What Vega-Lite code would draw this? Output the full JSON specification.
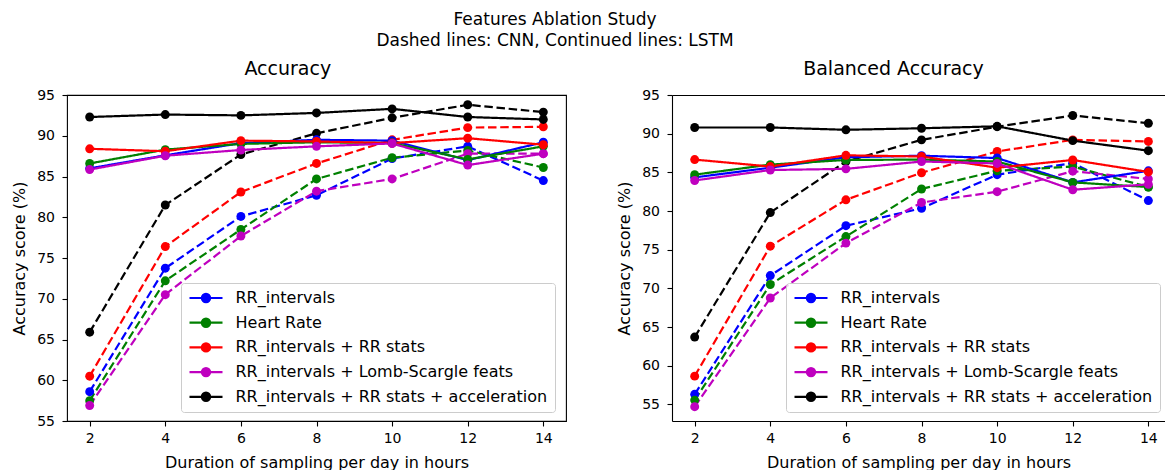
{
  "$schema": "https://vega.github.io/schema/vega-lite/v6.json",
  "padding": {"left": 11, "top": 10, "right": 0, "bottom": 0},
  "background": "white",
  "title": {"text": ["Features Ablation Study", "Dashed lines: CNN, Continued lines: LSTM"], "anchor": "middle", "dx": -33, "fontSize": 17, "fontWeight": "normal", "font": "DejaVu Sans", "color": "black", "lineHeight": 21.7, "offset": 9},
  "config": {
    "font": "DejaVu Sans",
    "view": {"stroke": "black", "strokeWidth": 1.1},
    "axis": {"grid": false, "domain": false, "tickColor": "black", "tickSize": 5, "tickWidth": 1.1, "labelFont": "DejaVu Sans", "labelFontSize": 14, "labelColor": "black", "titleFont": "DejaVu Sans", "titleFontSize": 16, "titleFontWeight": "normal", "titleColor": "black", "domainColor": "black", "domainWidth": 1.1},
    "axisX": {"labelPadding": 5, "titlePadding": 9},
    "axisY": {"labelPadding": 7.5, "titlePadding": 9},
    "title": {"font": "DejaVu Sans", "fontSize": 19, "fontWeight": "normal", "color": "black"}
  },
  "datasets": {
    "acc": [
      {"feature": "RR_intervals", "model": "CNN", "hours": 2, "score": 58.6},
      {"feature": "RR_intervals", "model": "CNN", "hours": 4, "score": 73.75},
      {"feature": "RR_intervals", "model": "CNN", "hours": 6, "score": 80.1},
      {"feature": "RR_intervals", "model": "CNN", "hours": 8, "score": 82.7},
      {"feature": "RR_intervals", "model": "CNN", "hours": 10, "score": 87.2},
      {"feature": "RR_intervals", "model": "CNN", "hours": 12, "score": 88.7},
      {"feature": "RR_intervals", "model": "CNN", "hours": 14, "score": 84.5},
      {"feature": "Heart Rate", "model": "CNN", "hours": 2, "score": 57.5},
      {"feature": "Heart Rate", "model": "CNN", "hours": 4, "score": 72.2},
      {"feature": "Heart Rate", "model": "CNN", "hours": 6, "score": 78.5},
      {"feature": "Heart Rate", "model": "CNN", "hours": 8, "score": 84.7},
      {"feature": "Heart Rate", "model": "CNN", "hours": 10, "score": 87.3},
      {"feature": "Heart Rate", "model": "CNN", "hours": 12, "score": 88.2},
      {"feature": "Heart Rate", "model": "CNN", "hours": 14, "score": 86.1},
      {"feature": "RR_intervals + RR stats", "model": "CNN", "hours": 2, "score": 60.5},
      {"feature": "RR_intervals + RR stats", "model": "CNN", "hours": 4, "score": 76.4},
      {"feature": "RR_intervals + RR stats", "model": "CNN", "hours": 6, "score": 83.1},
      {"feature": "RR_intervals + RR stats", "model": "CNN", "hours": 8, "score": 86.6},
      {"feature": "RR_intervals + RR stats", "model": "CNN", "hours": 10, "score": 89.5},
      {"feature": "RR_intervals + RR stats", "model": "CNN", "hours": 12, "score": 91.0},
      {"feature": "RR_intervals + RR stats", "model": "CNN", "hours": 14, "score": 91.1},
      {"feature": "RR_intervals + Lomb-Scargle feats", "model": "CNN", "hours": 2, "score": 56.9},
      {"feature": "RR_intervals + Lomb-Scargle feats", "model": "CNN", "hours": 4, "score": 70.5},
      {"feature": "RR_intervals + Lomb-Scargle feats", "model": "CNN", "hours": 6, "score": 77.7},
      {"feature": "RR_intervals + Lomb-Scargle feats", "model": "CNN", "hours": 8, "score": 83.2},
      {"feature": "RR_intervals + Lomb-Scargle feats", "model": "CNN", "hours": 10, "score": 84.7},
      {"feature": "RR_intervals + Lomb-Scargle feats", "model": "CNN", "hours": 12, "score": 87.8},
      {"feature": "RR_intervals + Lomb-Scargle feats", "model": "CNN", "hours": 14, "score": 87.8},
      {"feature": "RR_intervals + RR stats + acceleration", "model": "CNN", "hours": 2, "score": 65.9},
      {"feature": "RR_intervals + RR stats + acceleration", "model": "CNN", "hours": 4, "score": 81.5},
      {"feature": "RR_intervals + RR stats + acceleration", "model": "CNN", "hours": 6, "score": 87.7},
      {"feature": "RR_intervals + RR stats + acceleration", "model": "CNN", "hours": 8, "score": 90.3},
      {"feature": "RR_intervals + RR stats + acceleration", "model": "CNN", "hours": 10, "score": 92.2},
      {"feature": "RR_intervals + RR stats + acceleration", "model": "CNN", "hours": 12, "score": 93.8},
      {"feature": "RR_intervals + RR stats + acceleration", "model": "CNN", "hours": 14, "score": 92.9},
      {"feature": "RR_intervals", "model": "LSTM", "hours": 2, "score": 86.0},
      {"feature": "RR_intervals", "model": "LSTM", "hours": 4, "score": 87.6},
      {"feature": "RR_intervals", "model": "LSTM", "hours": 6, "score": 89.1},
      {"feature": "RR_intervals", "model": "LSTM", "hours": 8, "score": 89.5},
      {"feature": "RR_intervals", "model": "LSTM", "hours": 10, "score": 89.4},
      {"feature": "RR_intervals", "model": "LSTM", "hours": 12, "score": 87.0},
      {"feature": "RR_intervals", "model": "LSTM", "hours": 14, "score": 89.2},
      {"feature": "Heart Rate", "model": "LSTM", "hours": 2, "score": 86.6},
      {"feature": "Heart Rate", "model": "LSTM", "hours": 4, "score": 88.3},
      {"feature": "Heart Rate", "model": "LSTM", "hours": 6, "score": 89.0},
      {"feature": "Heart Rate", "model": "LSTM", "hours": 8, "score": 89.2},
      {"feature": "Heart Rate", "model": "LSTM", "hours": 10, "score": 89.1},
      {"feature": "Heart Rate", "model": "LSTM", "hours": 12, "score": 87.1},
      {"feature": "Heart Rate", "model": "LSTM", "hours": 14, "score": 88.7},
      {"feature": "RR_intervals + RR stats", "model": "LSTM", "hours": 2, "score": 88.4},
      {"feature": "RR_intervals + RR stats", "model": "LSTM", "hours": 4, "score": 88.1},
      {"feature": "RR_intervals + RR stats", "model": "LSTM", "hours": 6, "score": 89.4},
      {"feature": "RR_intervals + RR stats", "model": "LSTM", "hours": 8, "score": 89.3},
      {"feature": "RR_intervals + RR stats", "model": "LSTM", "hours": 10, "score": 89.1},
      {"feature": "RR_intervals + RR stats", "model": "LSTM", "hours": 12, "score": 89.7},
      {"feature": "RR_intervals + RR stats", "model": "LSTM", "hours": 14, "score": 88.9},
      {"feature": "RR_intervals + Lomb-Scargle feats", "model": "LSTM", "hours": 2, "score": 85.85},
      {"feature": "RR_intervals + Lomb-Scargle feats", "model": "LSTM", "hours": 4, "score": 87.55},
      {"feature": "RR_intervals + Lomb-Scargle feats", "model": "LSTM", "hours": 6, "score": 88.25},
      {"feature": "RR_intervals + Lomb-Scargle feats", "model": "LSTM", "hours": 8, "score": 88.7},
      {"feature": "RR_intervals + Lomb-Scargle feats", "model": "LSTM", "hours": 10, "score": 89.05},
      {"feature": "RR_intervals + Lomb-Scargle feats", "model": "LSTM", "hours": 12, "score": 86.4},
      {"feature": "RR_intervals + Lomb-Scargle feats", "model": "LSTM", "hours": 14, "score": 87.8},
      {"feature": "RR_intervals + RR stats + acceleration", "model": "LSTM", "hours": 2, "score": 92.3},
      {"feature": "RR_intervals + RR stats + acceleration", "model": "LSTM", "hours": 4, "score": 92.6},
      {"feature": "RR_intervals + RR stats + acceleration", "model": "LSTM", "hours": 6, "score": 92.5},
      {"feature": "RR_intervals + RR stats + acceleration", "model": "LSTM", "hours": 8, "score": 92.8},
      {"feature": "RR_intervals + RR stats + acceleration", "model": "LSTM", "hours": 10, "score": 93.3},
      {"feature": "RR_intervals + RR stats + acceleration", "model": "LSTM", "hours": 12, "score": 92.3},
      {"feature": "RR_intervals + RR stats + acceleration", "model": "LSTM", "hours": 14, "score": 92.0}
    ],
    "bacc": [
      {"feature": "RR_intervals", "model": "CNN", "hours": 2, "score": 56.3},
      {"feature": "RR_intervals", "model": "CNN", "hours": 4, "score": 71.65},
      {"feature": "RR_intervals", "model": "CNN", "hours": 6, "score": 78.1},
      {"feature": "RR_intervals", "model": "CNN", "hours": 8, "score": 80.35},
      {"feature": "RR_intervals", "model": "CNN", "hours": 10, "score": 84.7},
      {"feature": "RR_intervals", "model": "CNN", "hours": 12, "score": 86.2},
      {"feature": "RR_intervals", "model": "CNN", "hours": 14, "score": 81.35},
      {"feature": "Heart Rate", "model": "CNN", "hours": 2, "score": 55.55},
      {"feature": "Heart Rate", "model": "CNN", "hours": 4, "score": 70.5},
      {"feature": "Heart Rate", "model": "CNN", "hours": 6, "score": 76.7},
      {"feature": "Heart Rate", "model": "CNN", "hours": 8, "score": 82.85},
      {"feature": "Heart Rate", "model": "CNN", "hours": 10, "score": 85.2},
      {"feature": "Heart Rate", "model": "CNN", "hours": 12, "score": 85.75},
      {"feature": "Heart Rate", "model": "CNN", "hours": 14, "score": 83.1},
      {"feature": "RR_intervals + RR stats", "model": "CNN", "hours": 2, "score": 58.65},
      {"feature": "RR_intervals + RR stats", "model": "CNN", "hours": 4, "score": 75.45},
      {"feature": "RR_intervals + RR stats", "model": "CNN", "hours": 6, "score": 81.45},
      {"feature": "RR_intervals + RR stats", "model": "CNN", "hours": 8, "score": 84.95},
      {"feature": "RR_intervals + RR stats", "model": "CNN", "hours": 10, "score": 87.7},
      {"feature": "RR_intervals + RR stats", "model": "CNN", "hours": 12, "score": 89.2},
      {"feature": "RR_intervals + RR stats", "model": "CNN", "hours": 14, "score": 89.0},
      {"feature": "RR_intervals + Lomb-Scargle feats", "model": "CNN", "hours": 2, "score": 54.7},
      {"feature": "RR_intervals + Lomb-Scargle feats", "model": "CNN", "hours": 4, "score": 68.75},
      {"feature": "RR_intervals + Lomb-Scargle feats", "model": "CNN", "hours": 6, "score": 75.85},
      {"feature": "RR_intervals + Lomb-Scargle feats", "model": "CNN", "hours": 8, "score": 81.1},
      {"feature": "RR_intervals + Lomb-Scargle feats", "model": "CNN", "hours": 10, "score": 82.5},
      {"feature": "RR_intervals + Lomb-Scargle feats", "model": "CNN", "hours": 12, "score": 85.15},
      {"feature": "RR_intervals + Lomb-Scargle feats", "model": "CNN", "hours": 14, "score": 84.15},
      {"feature": "RR_intervals + RR stats + acceleration", "model": "CNN", "hours": 2, "score": 63.7},
      {"feature": "RR_intervals + RR stats + acceleration", "model": "CNN", "hours": 4, "score": 79.8},
      {"feature": "RR_intervals + RR stats + acceleration", "model": "CNN", "hours": 6, "score": 86.4},
      {"feature": "RR_intervals + RR stats + acceleration", "model": "CNN", "hours": 8, "score": 89.2},
      {"feature": "RR_intervals + RR stats + acceleration", "model": "CNN", "hours": 10, "score": 90.9},
      {"feature": "RR_intervals + RR stats + acceleration", "model": "CNN", "hours": 12, "score": 92.35},
      {"feature": "RR_intervals + RR stats + acceleration", "model": "CNN", "hours": 14, "score": 91.35},
      {"feature": "RR_intervals", "model": "LSTM", "hours": 2, "score": 84.35},
      {"feature": "RR_intervals", "model": "LSTM", "hours": 4, "score": 85.6},
      {"feature": "RR_intervals", "model": "LSTM", "hours": 6, "score": 86.95},
      {"feature": "RR_intervals", "model": "LSTM", "hours": 8, "score": 87.15},
      {"feature": "RR_intervals", "model": "LSTM", "hours": 10, "score": 86.85},
      {"feature": "RR_intervals", "model": "LSTM", "hours": 12, "score": 83.7},
      {"feature": "RR_intervals", "model": "LSTM", "hours": 14, "score": 85.2},
      {"feature": "Heart Rate", "model": "LSTM", "hours": 2, "score": 84.7},
      {"feature": "Heart Rate", "model": "LSTM", "hours": 4, "score": 86.0},
      {"feature": "Heart Rate", "model": "LSTM", "hours": 6, "score": 86.6},
      {"feature": "Heart Rate", "model": "LSTM", "hours": 8, "score": 86.65},
      {"feature": "Heart Rate", "model": "LSTM", "hours": 10, "score": 86.4},
      {"feature": "Heart Rate", "model": "LSTM", "hours": 12, "score": 83.7},
      {"feature": "Heart Rate", "model": "LSTM", "hours": 14, "score": 83.1},
      {"feature": "RR_intervals + RR stats", "model": "LSTM", "hours": 2, "score": 86.65},
      {"feature": "RR_intervals + RR stats", "model": "LSTM", "hours": 4, "score": 85.75},
      {"feature": "RR_intervals + RR stats", "model": "LSTM", "hours": 6, "score": 87.2},
      {"feature": "RR_intervals + RR stats", "model": "LSTM", "hours": 8, "score": 87.05},
      {"feature": "RR_intervals + RR stats", "model": "LSTM", "hours": 10, "score": 85.6},
      {"feature": "RR_intervals + RR stats", "model": "LSTM", "hours": 12, "score": 86.6},
      {"feature": "RR_intervals + RR stats", "model": "LSTM", "hours": 14, "score": 85.05},
      {"feature": "RR_intervals + Lomb-Scargle feats", "model": "LSTM", "hours": 2, "score": 83.95},
      {"feature": "RR_intervals + Lomb-Scargle feats", "model": "LSTM", "hours": 4, "score": 85.3},
      {"feature": "RR_intervals + Lomb-Scargle feats", "model": "LSTM", "hours": 6, "score": 85.45},
      {"feature": "RR_intervals + Lomb-Scargle feats", "model": "LSTM", "hours": 8, "score": 86.4},
      {"feature": "RR_intervals + Lomb-Scargle feats", "model": "LSTM", "hours": 10, "score": 86.15},
      {"feature": "RR_intervals + Lomb-Scargle feats", "model": "LSTM", "hours": 12, "score": 82.75},
      {"feature": "RR_intervals + Lomb-Scargle feats", "model": "LSTM", "hours": 14, "score": 83.45},
      {"feature": "RR_intervals + RR stats + acceleration", "model": "LSTM", "hours": 2, "score": 90.8},
      {"feature": "RR_intervals + RR stats + acceleration", "model": "LSTM", "hours": 4, "score": 90.8},
      {"feature": "RR_intervals + RR stats + acceleration", "model": "LSTM", "hours": 6, "score": 90.5},
      {"feature": "RR_intervals + RR stats + acceleration", "model": "LSTM", "hours": 8, "score": 90.7},
      {"feature": "RR_intervals + RR stats + acceleration", "model": "LSTM", "hours": 10, "score": 90.95},
      {"feature": "RR_intervals + RR stats + acceleration", "model": "LSTM", "hours": 12, "score": 89.1},
      {"feature": "RR_intervals + RR stats + acceleration", "model": "LSTM", "hours": 14, "score": 87.8}
    ]
  },
  "spacing": 106,
  "bounds": "flush",
  "resolve": {"scale": {"x": "independent", "y": "independent", "color": "shared"}, "legend": {"color": "independent"}},
  "hconcat": [
    {
      "width": 499,
      "height": 326,
      "title": {"text": "Accuracy", "frame": "group", "dx": -28.7, "baseline": "alphabetic", "offset": -6},
      "data": {"name": "acc"},
      "layer": [
        {
          "mark": {"type": "line", "strokeWidth": 2.2},
          "encoding": {
            "x": {"field": "hours", "type": "quantitative", "scale": {"domain": [1.4, 14.6], "nice": false, "zero": false}, "axis": {"values": [2, 4, 6, 8, 10, 12, 14], "format": "d", "title": "Duration of sampling per day in hours"}},
            "y": {"field": "score", "type": "quantitative", "scale": {"domain": [55, 95], "nice": false, "zero": false}, "axis": {"values": [55, 60, 65, 70, 75, 80, 85, 90, 95], "format": "d", "title": "Accuracy score (%)"}},
            "color": {"field": "feature", "type": "nominal", "scale": {"domain": ["RR_intervals", "Heart Rate", "RR_intervals + RR stats", "RR_intervals + Lomb-Scargle feats", "RR_intervals + RR stats + acceleration"], "range": ["#0000ff", "#008000", "#ff0000", "#bf00bf", "#000000"]},
              "legend": {"title": null, "orient": "none", "legendX": 114, "legendY": 188, "symbolType": "M-1,0L1,0M-0.25,0A0.25,0.25,0,1,1,0.25,0A0.25,0.25,0,1,1,-0.25,0Z", "symbolSize": 1089, "symbolStrokeWidth": 2.2, "clipHeight": 16, "rowPadding": 8.7, "labelOffset": 11.5, "labelFontSize": 16, "labelFont": "DejaVu Sans", "labelColor": "black", "labelLimit": 500, "padding": 7, "fillColor": "rgba(255,255,255,0.8)", "strokeColor": "#cccccc", "cornerRadius": 3,
                "encoding": {"symbols": {"update": {"fill": {"scale": "color", "field": "value"}, "stroke": {"scale": "color", "field": "value"}, "opacity": {"value": 1}}}}}},
            "strokeDash": {"field": "model", "type": "nominal", "scale": {"domain": ["CNN", "LSTM"], "range": [[8.5, 3.7], [1, 0]]}, "legend": null}
          }
        },
        {
          "mark": {"type": "point", "filled": true, "size": 80, "opacity": 1},
          "encoding": {
            "x": {"field": "hours", "type": "quantitative"},
            "y": {"field": "score", "type": "quantitative"},
            "color": {"field": "feature", "type": "nominal", "legend": null}
          }
        }
      ]
    },
    {
      "width": 493,
      "height": 326,
      "view": {"stroke": null},
      "title": {"text": "Balanced Accuracy", "frame": "group", "dx": -25, "baseline": "alphabetic", "offset": -6},
      "data": {"name": "bacc"},
      "resolve": {"axis": {"x": "independent"}},
      "layer": [
        {
          "mark": {"type": "line", "strokeWidth": 2.2},
          "encoding": {
            "x": {"field": "hours", "type": "quantitative", "scale": {"domain": [1.4, 14.44], "nice": false, "zero": false}, "axis": {"values": [2, 4, 6, 8, 10, 12, 14], "format": "d", "domain": true, "title": "Duration of sampling per day in hours"}},
            "y": {"field": "score", "type": "quantitative", "scale": {"domain": [52.85, 95], "nice": false, "zero": false}, "axis": {"values": [55, 60, 65, 70, 75, 80, 85, 90, 95], "format": "d", "domain": true, "title": "Accuracy score (%)"}},
            "color": {"field": "feature", "type": "nominal", "scale": {"domain": ["RR_intervals", "Heart Rate", "RR_intervals + RR stats", "RR_intervals + Lomb-Scargle feats", "RR_intervals + RR stats + acceleration"], "range": ["#0000ff", "#008000", "#ff0000", "#bf00bf", "#000000"]},
              "legend": {"title": null, "orient": "none", "legendX": 114, "legendY": 188, "symbolType": "M-1,0L1,0M-0.25,0A0.25,0.25,0,1,1,0.25,0A0.25,0.25,0,1,1,-0.25,0Z", "symbolSize": 1089, "symbolStrokeWidth": 2.2, "clipHeight": 16, "rowPadding": 8.7, "labelOffset": 11.5, "labelFontSize": 16, "labelFont": "DejaVu Sans", "labelColor": "black", "labelLimit": 500, "padding": 7, "fillColor": "rgba(255,255,255,0.8)", "strokeColor": "#cccccc", "cornerRadius": 3,
                "encoding": {"symbols": {"update": {"fill": {"scale": "color", "field": "value"}, "stroke": {"scale": "color", "field": "value"}, "opacity": {"value": 1}}}}}},
            "strokeDash": {"field": "model", "type": "nominal", "scale": {"domain": ["CNN", "LSTM"], "range": [[8.5, 3.7], [1, 0]]}, "legend": null}
          }
        },
        {
          "mark": {"type": "point", "filled": true, "size": 80, "opacity": 1},
          "encoding": {
            "x": {"field": "hours", "type": "quantitative", "axis": {"orient": "top", "labels": false, "ticks": false, "tickSize": 0, "labelPadding": 0, "domain": true, "title": null, "minExtent": 0, "maxExtent": 0, "offset": 0}},
            "y": {"field": "score", "type": "quantitative"},
            "color": {"field": "feature", "type": "nominal", "legend": null}
          }
        }
      ]
    }
  ]
}
